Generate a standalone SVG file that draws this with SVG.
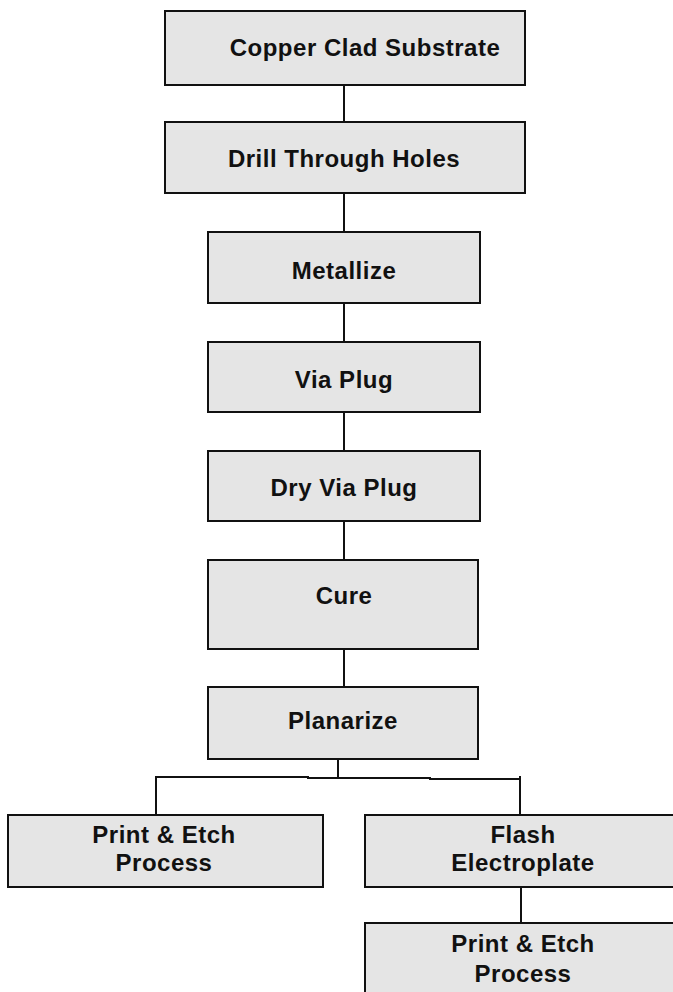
<svg xmlns="http://www.w3.org/2000/svg" width="673" height="992" viewBox="0 0 673 992">
<style>
.box{fill:#e5e5e5;stroke:#111;stroke-width:2}
.t{font-family:"Liberation Sans",Arial,sans-serif;font-weight:bold;font-size:24px;letter-spacing:0.5px;fill:#111;text-anchor:middle}
.c{stroke:#111;stroke-width:2;fill:none}
</style>
<rect width="673" height="992" fill="#fff"/>
<g id="connectors">
<line class="c" x1="344" y1="85" x2="344" y2="122"/>
<line class="c" x1="344" y1="193" x2="344" y2="232"/>
<line class="c" x1="344" y1="303" x2="344" y2="342"/>
<line class="c" x1="344" y1="412" x2="344" y2="451"/>
<line class="c" x1="344" y1="521" x2="344" y2="560"/>
<line class="c" x1="344" y1="649" x2="344" y2="687"/>
<line class="c" x1="338" y1="759" x2="338" y2="779"/>
<polyline class="c" points="156,815 156,777 308,777 308,778 430,778 430,779 520,779"/>
<line class="c" x1="520" y1="776" x2="520" y2="815"/>
<line class="c" x1="521" y1="887" x2="521" y2="923"/>
</g>
<g id="n1"><rect class="box" x="165" y="11" width="360" height="74"/><text class="t" x="365" y="56">Copper Clad Substrate</text></g>
<g id="n2"><rect class="box" x="165" y="122" width="360" height="71"/><text class="t" x="344" y="167">Drill Through Holes</text></g>
<g id="n3"><rect class="box" x="208" y="232" width="272" height="71"/><text class="t" x="344" y="279">Metallize</text></g>
<g id="n4"><rect class="box" x="208" y="342" width="272" height="70"/><text class="t" x="344" y="388">Via Plug</text></g>
<g id="n5"><rect class="box" x="208" y="451" width="272" height="70"/><text class="t" x="344" y="496">Dry Via Plug</text></g>
<g id="n6"><rect class="box" x="208" y="560" width="270" height="89"/><text class="t" x="344" y="604">Cure</text></g>
<g id="n7"><rect class="box" x="208" y="687" width="270" height="72"/><text class="t" x="343" y="729">Planarize</text></g>
<g id="n8"><rect class="box" x="8" y="815" width="315" height="72"/><text class="t" x="164" y="843">Print &amp; Etch</text><text class="t" x="164" y="871">Process</text></g>
<g id="n9"><rect class="box" x="365" y="815" width="320" height="72"/><text class="t" x="523" y="843">Flash</text><text class="t" x="523" y="871">Electroplate</text></g>
<g id="n10"><rect class="box" x="365" y="923" width="320" height="80"/><text class="t" x="523" y="952">Print &amp; Etch</text><text class="t" x="523" y="982">Process</text></g>
</svg>
